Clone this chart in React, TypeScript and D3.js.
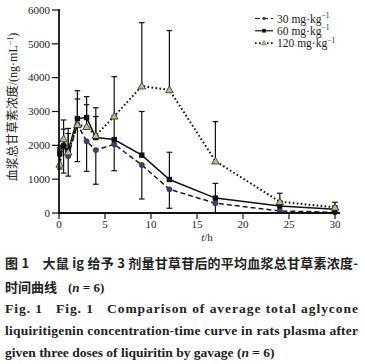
import React from "react";
import * as d3 from "d3";

const times = [0.083, 0.5, 1, 2, 3, 4, 6, 9, 12, 17, 24, 30];
const mean30 = [1900, 2000, 1680, 2620, 2120, 1860, 2030, 1420, 700, 290, 60, 20];
const sd30 = [600, 820, 590, 1100, 890, 1010, 780, 1006, 560, 290, 50, 15];
const mean60 = [1750, 1980, 1850, 2790, 2820, 2230, 2170, 1710, 990, 440, 205, 110];
const sd60 = [250, 500, 500, 825, 620, 880, 700, 1290, 805, 435, 150, 100];
const mean120 = [1440, 2190, 1800, 2610, 2550, 2290, 2860, 3750, 3640, 1535, 334, 168];
const sd120 = [400, 560, 700, 760, 650, 560, 1170, 1875, 1750, 1165, 250, 150];
const xTicks = [0, 5, 10, 15, 20, 25, 30];
const yTicks = [0, 1000, 2000, 3000, 4000, 5000, 6000];
const legendLabels = ["30 mg·kg", "60 mg·kg", "120 mg·kg"];

const serif = "'Liberation Serif', 'Times New Roman', serif";
const cjk = "'Noto Sans CJK SC', sans-serif";

export default function App() {
  const x = d3.scaleLinear().domain([0, 30]).range([59, 335]);
  const y = d3.scaleLinear().domain([0, 6000]).range([213, 10]);
  const line = (vals: number[]) =>
    d3.line<number>().x((_, i) => x(times[i])).y((v) => y(v))(vals) || "";

  const series = [
    { mean: mean30, sd: sd30, dir: -1, dash: "5,3", width: 1.5, color: "#1a1a1a", marker: "circle" },
    { mean: mean60, sd: sd60, dir: 1, dash: "", width: 1.5, color: "#111", marker: "square" },
    { mean: mean120, sd: sd120, dir: 1, dash: "1.6,2.4", width: 2, color: "#111", marker: "triangle" },
  ];

  const marker = (kind: string, cx: number, cy: number, key: string) => {
    if (kind === "circle")
      return <circle key={key} cx={cx} cy={cy} r={2.6} fill="#34466f" stroke="#1e2b4a" strokeWidth={0.6} />;
    if (kind === "square")
      return <rect key={key} x={cx - 2.7} y={cy - 2.7} width={5.4} height={5.4} fill="#111" />;
    const s = 3.8;
    return (
      <path key={key} d={`M${cx},${cy - s} L${cx + s},${cy + s * 0.75} L${cx - s},${cy + s * 0.75} Z`}
        fill="#bcbf8a" stroke="#2a2a1a" strokeWidth={0.8} />
    );
  };

  return (
    <svg width={365} height={364} style={{ position: "absolute", left: 0, top: 0, background: "#fff" }}>
      <rect width={365} height={364} fill="#fff" />
      {/* error bars */}
      {series.map((s, si) =>
        s.mean.map((m, i) => {
          const cx = x(times[i]);
          const end = Math.max(0, m + s.dir * s.sd[i]);
          return (
            <g key={`e${si}-${i}`} stroke="#111" strokeWidth={1.2}>
              <line x1={cx} x2={cx} y1={y(m)} y2={y(end)} />
              <line x1={cx - 2.8} x2={cx + 2.8} y1={y(end)} y2={y(end)} />
            </g>
          );
        })
      )}
      {/* lines */}
      {series.map((s, si) => (
        <path key={`l${si}`} d={line(s.mean)} fill="none" stroke={s.color} strokeWidth={s.width}
          strokeDasharray={s.dash || undefined} />
      ))}
      {/* markers */}
      {series.map((s, si) => s.mean.map((m, i) => marker(s.marker, x(times[i]), y(m), `m${si}-${i}`)))}

      {/* axes */}
      <line x1={59} x2={59} y1={9} y2={213.8} stroke="#111" strokeWidth={1.8} />
      <line x1={58} x2={340} y1={213} y2={213} stroke="#111" strokeWidth={1.8} />
      {yTicks.map((t) => (
        <g key={`yt${t}`}>
          <line x1={52} x2={59} y1={y(t)} y2={y(t)} stroke="#111" strokeWidth={1.2} />
          <text x={50} y={y(t) + 3.8} textAnchor="end" fontFamily={serif} fontSize={11} fill="#222">{t}</text>
        </g>
      ))}
      {xTicks.map((t) => (
        <g key={`xt${t}`}>
          <line x1={x(t)} x2={x(t)} y1={213} y2={219} stroke="#111" strokeWidth={1.2} />
          <text x={x(t)} y={228} textAnchor="middle" fontFamily={serif} fontSize={11} fill="#222">{t}</text>
        </g>
      ))}
      <text x={207} y={241} textAnchor="middle" fontFamily={serif} fontSize={11} fill="#222">
        <tspan fontStyle="italic">t</tspan>/h
      </text>
      <text transform="translate(17,107) rotate(-90)" textAnchor="middle" fontSize={12} fill="#222">
        <tspan fontFamily={cjk}>血浆总甘草素浓度</tspan>
        <tspan fontFamily={serif}>/(ng·mL</tspan>
        <tspan fontFamily={serif} fontSize={8} dy={-4}>−1</tspan>
        <tspan fontFamily={serif} dy={4}>)</tspan>
      </text>

      {/* legend */}
      {series.map((s, si) => {
        const ly = 18.5 + si * 12.3;
        return (
          <g key={`lg${si}`}>
            <line x1={255} x2={273} y1={ly} y2={ly} stroke={s.color} strokeWidth={s.width * 0.8}
              strokeDasharray={s.dash || undefined} />
            {s.marker === "circle" ? <circle cx={264} cy={ly} r={1.8} fill="#34466f" /> :
              s.marker === "square" ? <rect x={262.2} y={ly - 1.8} width={3.6} height={3.6} fill="#111" /> :
                <path d={`M264,${ly - 2.5} L266.5,${ly + 1.8} L261.5,${ly + 1.8} Z`} fill="#bcbf8a" stroke="#444" strokeWidth={0.5} />}
            <text x={277} y={ly + 4} fontFamily={serif} fontSize={11.5} fill="#222">
              {legendLabels[si]}
              <tspan fontSize={7.5} dy={-4.5}>−1</tspan>
            </text>
          </g>
        );
      })}

      {/* caption */}
      <text x={5} y={268} fontFamily={cjk} fontWeight="bold" fontSize={13} fill="#222" textLength={353} lengthAdjust="spacing">
        图 1　大鼠 ig 给予 3 剂量甘草苷后的平均血浆总甘草素浓度-
      </text>
      <text x={5} y={292} fontSize={13} fill="#222" fontWeight="bold">
        <tspan fontFamily={cjk}>时间曲线</tspan>
        <tspan fontFamily={serif} x={68}>(</tspan>
        <tspan fontFamily={serif} fontStyle="italic">n</tspan>
        <tspan fontFamily={serif}> = 6)</tspan>
      </text>
      <text x={5} y={313} fontFamily={serif} fontWeight="bold" fontSize={13.5} fill="#222" textLength={353} lengthAdjust="spacing" xmlSpace="preserve">
        Fig. 1   Fig. 1   Comparison of average total aglycone
      </text>
      <text x={5} y={335} fontFamily={serif} fontWeight="bold" fontSize={13.5} fill="#222" textLength={353} lengthAdjust="spacing">
        liquiritigenin concentration-time curve in rats plasma after
      </text>
      <text x={5} y={357} fontFamily={serif} fontWeight="bold" fontSize={13.5} fill="#222">
        given three doses of liquiritin by gavage (<tspan fontStyle="italic">n</tspan> = 6)
      </text>
    </svg>
  );
}
